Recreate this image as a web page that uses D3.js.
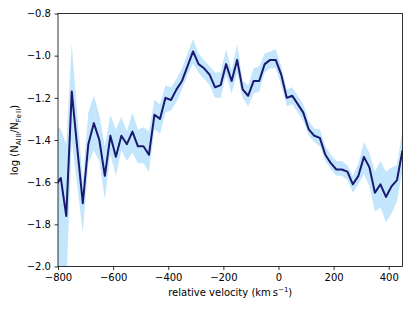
<!DOCTYPE html>
<html>
<head>
<meta charset="utf-8">
<script src="https://cdn.jsdelivr.net/npm/d3@7"></script>
<style>
  body { margin: 0; background: #fff; }
  text { font-family: "DejaVu Sans", sans-serif; fill: #000; }
</style>
</head>
<body>
<div id="chart"></div>
<script>
// chart values
var velocity = [-810, -790, -770, -750, -730, -710, -690, -670, -650, -630,
    -610, -590, -570, -550, -530, -510, -490, -470, -450, -430,
    -410, -390, -370, -350, -330, -310, -290, -270, -250, -230,
    -210, -190, -170, -150, -130, -110, -90, -70, -50, -30,
    -10, 10, 30, 50, 70, 90, 110, 130, 150, 170,
    190, 210, 230, 250, 270, 290, 310, 330, 350, 370,
    390, 410, 430, 450];
var logRatio = [-1.62, -1.58, -1.76, -1.17, -1.44, -1.70, -1.42, -1.32, -1.40, -1.57,
    -1.38, -1.48, -1.38, -1.42, -1.36, -1.43, -1.43, -1.47, -1.28, -1.30,
    -1.20, -1.21, -1.16, -1.12, -1.05, -0.98, -1.04, -1.06, -1.09, -1.15,
    -1.14, -1.04, -1.12, -1.02, -1.16, -1.19, -1.12, -1.12, -1.04, -1.02,
    -1.02, -1.09, -1.20, -1.19, -1.23, -1.27, -1.35, -1.38, -1.39, -1.47,
    -1.51, -1.54, -1.54, -1.55, -1.61, -1.57, -1.48, -1.53, -1.65, -1.61,
    -1.67, -1.62, -1.59, -1.45];
var upper = [-1.33, -1.35, -1.42, -0.945, -1.28, -1.59, -1.27, -1.19, -1.28, -1.43,
    -1.28, -1.35, -1.29, -1.36, -1.27, -1.35, -1.34, -1.36, -1.21, -1.23,
    -1.14, -1.15, -1.11, -1.06, -0.99, -0.92, -0.99, -1.02, -1.05, -1.08,
    -1.08, -0.97, -1.07, -0.945, -1.12, -1.14, -1.06, -1.05, -0.99, -0.98,
    -0.97, -1.05, -1.16, -1.15, -1.19, -1.23, -1.31, -1.345, -1.35, -1.43,
    -1.47, -1.50, -1.50, -1.52, -1.57, -1.51, -1.41, -1.46, -1.55, -1.50,
    -1.55, -1.53, -1.52, -1.35];
var lower = [-2.25, -2.20, -2.10, -1.40, -1.62, -1.84, -1.51, -1.45, -1.50, -1.68,
    -1.47, -1.57, -1.45, -1.50, -1.46, -1.51, -1.51, -1.55, -1.35, -1.37,
    -1.27, -1.26, -1.22, -1.16, -1.09, -1.04, -1.08, -1.11, -1.14, -1.20,
    -1.20, -1.09, -1.18, -1.08, -1.20, -1.24, -1.18, -1.17, -1.08, -1.06,
    -1.06, -1.14, -1.24, -1.23, -1.27, -1.31, -1.38, -1.41, -1.43, -1.50,
    -1.54, -1.57, -1.57, -1.59, -1.65, -1.61, -1.56, -1.62, -1.74, -1.72,
    -1.79, -1.75, -1.69, -1.54];
var xTicks = [-800, -600, -400, -200, 0, 200, 400];
var yTicks = [-2.0, -1.8, -1.6, -1.4, -1.2, -1.0, -0.8];

//SVG size and margins
var svgWidth = 415;
var svgHeight = 311;
var margin = { top: 13.5, right: 12.5, bottom: 44.5, left: 58 };
var width = svgWidth - margin.left - margin.right;
var height = svgHeight - margin.top - margin.bottom;

var svg = d3.select("#chart")
    .append("svg")
    .attr("width", svgWidth)
    .attr("height", svgHeight);
var g = svg.append("g")
    .attr("transform", `translate(${margin.left}, ${margin.top})`);

var x = d3.scaleLinear().domain([-800, 450]).range([0, width]);
var y = d3.scaleLinear().domain([-2.0, -0.8]).range([height, 0]);

g.append("clipPath").attr("id", "clip")
    .append("rect").attr("width", width).attr("height", height);

var rows = velocity.map((v, i) => ({ v: v, m: logRatio[i], hi: upper[i], lo: lower[i] }));

var plot = g.append("g").attr("clip-path", "url(#clip)");

//error band
plot.append("path")
    .datum(rows)
    .attr("fill", "#87cefa")
    .attr("fill-opacity", 0.5)
    .attr("d", d3.area()
        .x(d => x(d.v))
        .y0(d => y(d.lo))
        .y1(d => y(d.hi)));

//mean line
plot.append("path")
    .datum(rows)
    .attr("fill", "none")
    .attr("stroke", "#191970")
    .attr("stroke-width", 2)
    .attr("stroke-linejoin", "round")
    .attr("d", d3.line()
        .x(d => x(d.v))
        .y(d => y(d.m)));

//axes
var fmtX = d => d < 0 ? "\u2212" + Math.abs(d) : String(d);
var fmtY = d => "\u2212" + Math.abs(d).toFixed(1);

var xAxis = g.append("g")
    .attr("transform", `translate(0, ${height})`)
    .call(d3.axisBottom(x).tickValues(xTicks).tickFormat(fmtX).tickSizeInner(3.5).tickSizeOuter(0).tickPadding(3.5));
var yAxis = g.append("g")
    .call(d3.axisLeft(y).tickValues(yTicks).tickFormat(fmtY).tickSizeInner(3.5).tickSizeOuter(0).tickPadding(3.5));

[xAxis, yAxis].forEach(a => {
    a.select(".domain").remove();
    a.selectAll("line").attr("stroke", "#000").attr("stroke-width", 0.8);
    a.selectAll("text").attr("font-size", 10).attr("font-family", "DejaVu Sans").attr("fill", "#000");
});

//frame
g.append("rect")
    .attr("width", width)
    .attr("height", height)
    .attr("fill", "none")
    .attr("stroke", "#000")
    .attr("stroke-width", 0.8);

//axis labels
g.append("text")
    .attr("x", width / 2)
    .attr("y", height + 29.5)
    .attr("text-anchor", "middle")
    .attr("font-size", 10)
    .html('relative velocity (km\u2009s<tspan dy="-4" font-size="7">\u22121</tspan><tspan dy="4">)</tspan>');

var ylab = g.append("text")
    .attr("transform", `translate(${-40}, ${height / 2}) rotate(-90)`)
    .attr("text-anchor", "middle")
    .attr("font-size", 10);
ylab.append("tspan").text("log (N");
ylab.append("tspan").attr("dy", 2.5).attr("font-size", 7).text("Al\u2009II");
ylab.append("tspan").attr("dy", -2.5).text("/N");
ylab.append("tspan").attr("dy", 2.5).attr("font-size", 7).text("Fe\u2009II");
ylab.append("tspan").attr("dy", -2.5).text(")");
</script>
</body>
</html>
